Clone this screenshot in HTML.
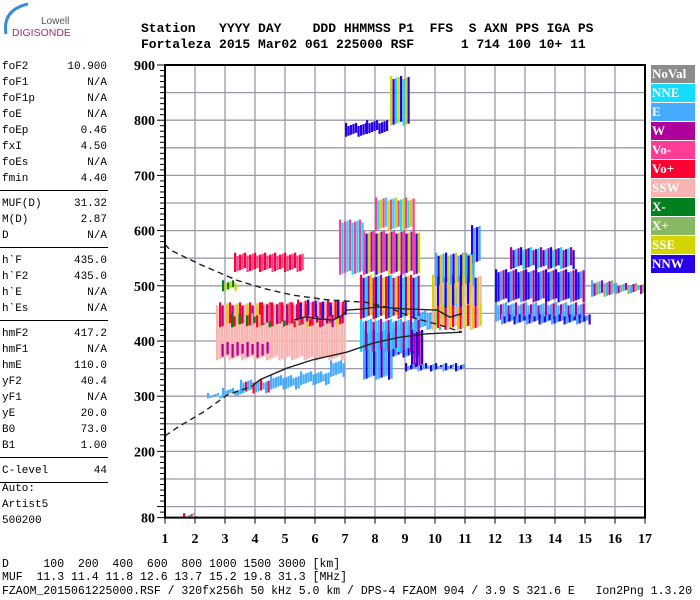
<!DOCTYPE html>
<html><head><meta charset="utf-8">
<style>
body{margin:0;background:#fff;width:700px;height:600px;overflow:hidden;position:relative;font-family:"Liberation Mono",monospace;}
.t{position:absolute;white-space:pre;color:#000;}
.h{font-weight:bold;font-size:13px;}
.l{font-size:11px;}
.b{font-size:11.5px;}
.hr{position:absolute;left:0;width:108px;height:1px;background:#000;}
.lg{position:absolute;left:651px;width:44px;height:18px;color:#fff;font-family:"Liberation Serif",serif;font-weight:bold;font-size:13px;line-height:18px;padding-left:1px;box-sizing:border-box;}
</style></head><body>
<svg style="position:absolute;left:0;top:0" width="80" height="38">
<path d="M6,34 Q2,10 28,4" stroke="#3a8ed0" stroke-width="3" fill="none"/>
<text x="41" y="24" font-family="Liberation Sans,sans-serif" font-size="10" fill="#555">Lowell</text>
<text x="12" y="36" font-family="Liberation Sans,sans-serif" font-size="10.5" fill="#a03070">DIGISONDE</text>
</svg>
<div>
<div class="t h" style="left:141px;top:21px">Station   YYYY DAY    DDD HHMMSS P1  FFS  S AXN PPS IGA PS</div>
<div class="t h" style="left:141px;top:37px">Fortaleza 2015 Mar02 061 225000 RSF      1 714 100 10+ 11</div>
</div>
<div id="left"></div>
<svg id="chart" style="position:absolute;left:0;top:0" width="700" height="600"></svg>
<div id="legend"></div>
<div>
<div class="t b" style="left:2px;top:558px">D     100  200  400  600  800 1000 1500 3000 [km]</div>
<div class="t b" style="left:2px;top:571px">MUF  11.3 11.4 11.8 12.6 13.7 15.2 19.8 31.3 [MHz]</div>
<div class="t b" style="left:2px;top:585px">FZAOM_2015061225000.RSF / 320fx256h 50 kHz 5.0 km / DPS-4 FZAOM 904 / 3.9 S 321.6 E   Ion2Png 1.3.20</div>
</div>
<script>
const params=[["foF2","10.900"],["foF1","N/A"],["foF1p","N/A"],["foE","N/A"],["foEp","0.46"],["fxI","4.50"],["foEs","N/A"],["fmin","4.40"],null,["MUF(D)","31.32"],["M(D)","2.87"],["D","N/A"],null,["h`F","435.0"],["h`F2","435.0"],["h`E","N/A"],["h`Es","N/A"],null,["hmF2","417.2"],["hmF1","N/A"],["hmE","110.0"],["yF2","40.4"],["yF1","N/A"],["yE","20.0"],["B0","73.0"],["B1","1.00"],null,["C-level","44"],null];
const left=document.getElementById('left');
let y=61;
for(const p of params){
 if(!p){const d=document.createElement('div');d.className='hr';d.style.top=(y+1)+'px';
 
 
 left.appendChild(d);y+=9;continue;}
 const a=document.createElement('div');a.className='t l';a.style.left='2px';a.style.top=y+'px';a.textContent=p[0];
 
 
 left.appendChild(a);
 const b=document.createElement('div');b.className='t l';b.style.right=(700-107)+'px';b.style.top=y+'px';b.textContent=p[1];
 
 
 left.appendChild(b);
 y+=16;
}
[["Auto:",483],["Artist5",499],["500200",515]].forEach(r=>{const a=document.createElement('div');a.className='t l';a.style.left='2px';a.style.top=r[1]+'px';a.textContent=r[0];
 
 
 left.appendChild(a);});

const legendNames=["NoVal","NNE","E","W","Vo-","Vo+","SSW","X-","X+","SSE","NNW"];
const legendColors=["#8c8c8c","#16dcff","#46aaff","#b0009c","#ff3c96","#ff0030","#f8b4b0","#00801e","#88b864","#d4d400","#2800e8"];
const C={};legendNames.forEach((n,i)=>C[n]=legendColors[i]);
const lg=document.getElementById('legend');
legendNames.forEach((n,i)=>{const d=document.createElement('div');d.className='lg';d.style.top=(65+i*19)+'px';d.style.background=legendColors[i];d.textContent=n;
 
 
 lg.appendChild(d);});

const xTicks=[1,2,3,4,5,6,7,8,9,10,11,12,13,14,15,16,17];
const yTicks=[900,800,700,600,500,400,300,200,80];
const blockF0=[1.6,2.4,2.9,3.5,4.5,5.5,6.5,7.6,8.5,9.3,10.2,10.9,11.2, 2.7,2.8,2.8,3.2,4.2,5.4,3.3,2.9, 7.5,7.5,7.6,8.0,9.2, 9.9,9.9,10.0, 12.0,12.0,12.5,12.2,15.2,16.0, 7.0,7.7,8.5, 9.0,6.8];
const blockF1=[2.1,3.0,3.6,4.5,5.5,6.5,7.0,8.6,9.5,10.2,10.9,11.3,11.5, 7.0,4.5,7.0,5.5,6.5,7.0,5.6,3.4, 9.5,9.5,9.5,9.3,9.6, 11.5,11.5,11.3, 15.0,15.0,14.6,15.2,16.0,17.0, 7.7,8.4,9.1, 11.0,7.6];
const blockH0=[80,296,300,305,312,320,335,330,370,420,440,480,540, 365,370,425,425,430,440,525,490, 440,380,520,600,350, 420,460,500, 470,435,530,430,480,485, 770,775,790, 345,520];
const blockH1=[88,306,315,330,338,345,365,420,430,455,500,560,610, 465,400,470,450,470,475,560,510, 520,440,600,660,420, 470,520,560, 530,470,570,450,510,505, 795,800,880, 360,620];
const blockCls=["Vo+,X+,E","E","E","E,E,Vo+","E","E","E","E,NNW,E","E,NNW","E","E,NNE","E,NNE","NNW,E",
 "SSW","SSW,W","Vo+,W,SSW,SSE","X-,Vo+,SSW","Vo+,SSW,W,Vo-","Vo+,NNW,SSW","Vo+,Vo-","X-,SSE",
 "Vo+,NNW,NNE,W,SSE","NNE,E,W","Vo-,NNW,SSE,W","Vo-,NNE,SSE","NNW,W",
 "SSW,SSE,Vo+","SSE,SSW,NNW","E,NNW,SSE",
 "NNW,NNW,E,W","E,E,W","W,NNW,NNE","E,NNW","E,W,X+","E,W,X+",
 "NNW","NNW","SSE,NNW,NNE", "NNW,E","Vo-,NNE"];
const dashF=[1.0,1.17,2.2,3.4,4.3,5.27,6.5,7.7,8.5,9.27,10.1,10.9];
const dashH=[575,565,538,510,495,483,474,470,460,442,430,416];
const lowF=[1.0,1.43,2.3,3.07,3.9];
const lowH=[228,244,272,302,318];
const solidF=[3.9,4.17,5.07,5.93,7.07,7.93,8.83,9.73,10.9];
const solidH=[318,330,351,366,380,396,407,413,416];
const traceF=[5.3,5.7,6.1,6.6,6.9,7.07,7.6,8.07,9.0,10.07,10.5,10.9];
const traceH=[438,444,440,438,446,456,458,462,458,456,443,450];

const X0=165,PX=30,Y0=65,PY=0.552;
const xs=f=>X0+(f-1)*PX;
const ys=h=>Y0+(900-h)*PY;
const svg=document.getElementById('chart');
const NS='http://www.w3.org/2000/svg';
function el(t,a){const e=document.createElementNS(NS,t);for(const k in a)e.setAttribute(k,a[k]);svg.appendChild(e);return e;}
for(let f=2;f<=16;f++){const g=el('line',{x1:xs(f),x2:xs(f),y1:Y0,y2:ys(80),stroke:'#9a9aaa','stroke-width':1.3});
 
 }
for(let h=100;h<900;h+=50){const g=el('line',{x1:X0,x2:xs(17),y1:ys(h),y2:ys(h),stroke:'#9a9aaa','stroke-width':1.3});
 
 }
for(let i=0;i<blockF0.length;i++){
 const cl=blockCls[i].split(',');
 const x0=xs(blockF0[i]),x1=xs(blockF1[i]),y0=ys(blockH1[i]),y1=ys(blockH0[i]);
 const g=el('g',{});
 
 
 let k=0;
 for(let x=x0;x<x1;x+=2.5,k++){
  const r=document.createElementNS(NS,'rect');
  const off=(k*7)%4, cut=(k*11)%5;
  r.setAttribute('x',x);r.setAttribute('y',y0+off);r.setAttribute('width',2.2);r.setAttribute('height',Math.max(2,y1-y0-off-cut));
  r.setAttribute('fill',C[cl[k%cl.length]]);
  
  
  g.appendChild(r);
 }
}
function poly(F,H,dash,name){const p=el('polyline',{points:F.map((f,i)=>xs(f)+','+ys(H[i])).join(' '),fill:'none',stroke:'#222','stroke-width':1.4,'stroke-dasharray':dash||'none'});
 
 }
poly(dashF,dashH,'6,4','profile-dashed-upper');
poly(lowF,lowH,'6,4','profile-dashed-lower');
poly(solidF,solidH,null,'electron-density-profile');
poly(traceF,traceH,null,'virtual-height-trace');
const fr=el('path',{d:`M${X0},${Y0} H${xs(17)} V${ys(80)} H${X0} Z`,fill:'none',stroke:'#000','stroke-width':2});


for(let h=80;h<=900;h+=10){const m=(h%100===0||h===80);const t=el('line',{x1:X0-(m?8:5),x2:X0,y1:ys(h),y2:ys(h),stroke:'#000','stroke-width':1});
 
 }
yTicks.forEach(v=>{const t=el('text',{x:X0-10,y:ys(v)+5,'text-anchor':'end','font-family':'Liberation Serif,serif','font-weight':'bold','font-size':14});t.textContent=v;
 
 });
xTicks.forEach(v=>{const l=el('line',{x1:xs(v),x2:xs(v),y1:ys(80),y2:ys(80)+6,stroke:'#000'});
 
 
 const t=el('text',{x:xs(v),y:543,'text-anchor':'middle','font-family':'Liberation Serif,serif','font-weight':'bold','font-size':14});t.textContent=v;
 
 });
</script>
</body></html>
